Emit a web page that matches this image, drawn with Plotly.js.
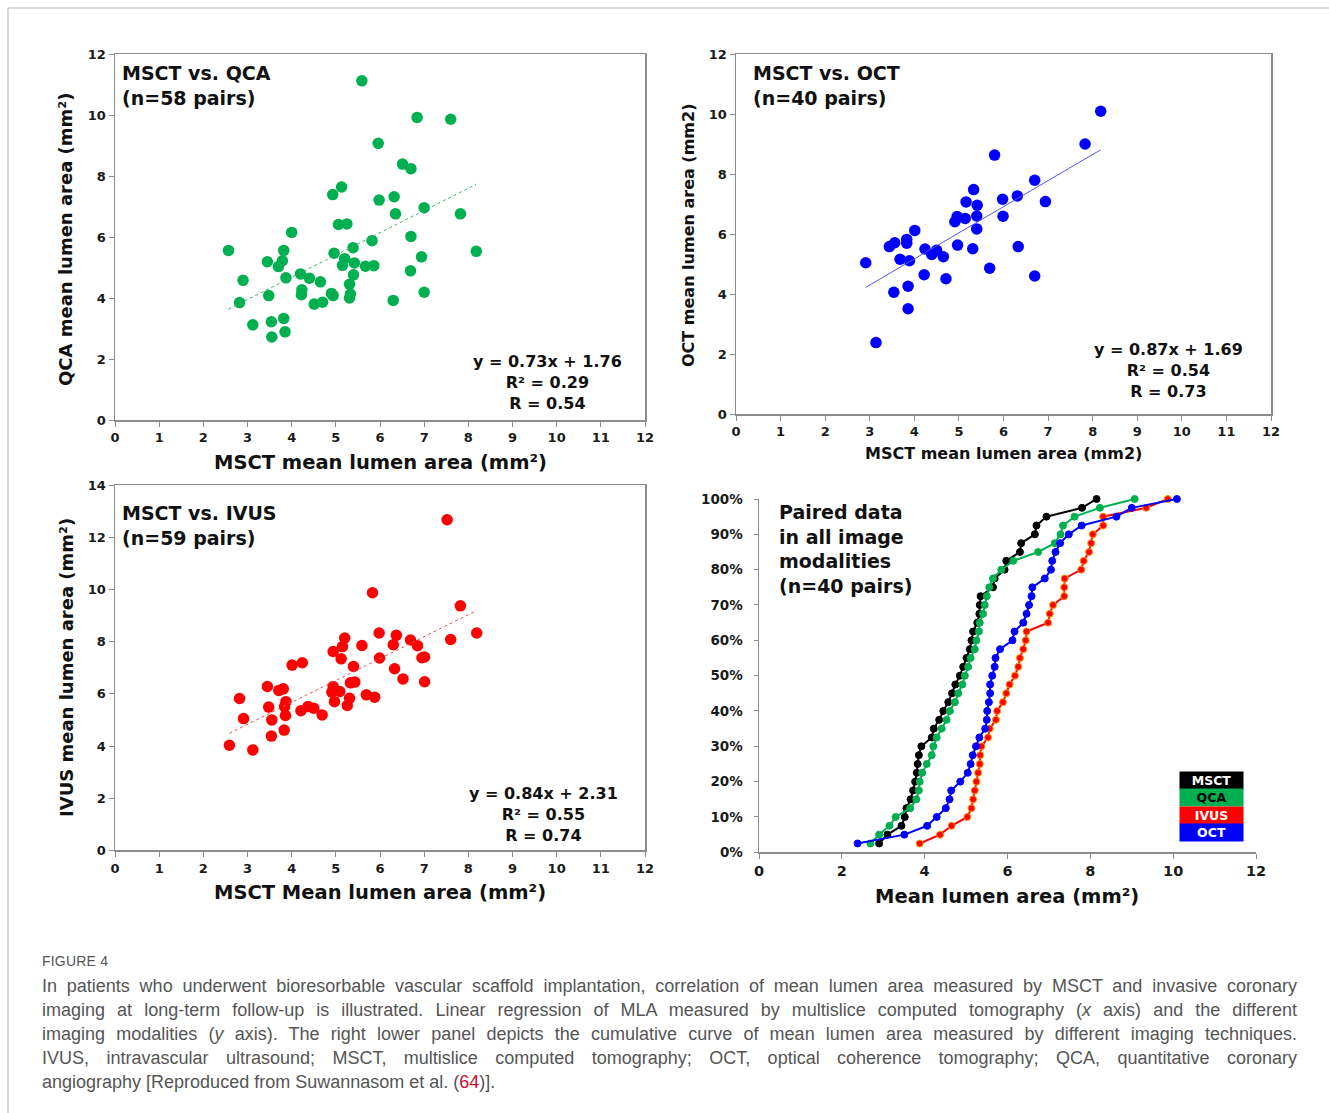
<!DOCTYPE html>
<html>
<head>
<meta charset="utf-8">
<script src="https://cdn.plot.ly/plotly-3.0.1.min.js"></script>
<style>
  html, body { margin: 0; padding: 0; background: #fff; }
  #wrap { position: relative; width: 1329px; height: 1113px; }
  #chart { position: absolute; left: 0; top: 0; width: 1329px; height: 1113px; }
  #caption { position: absolute; left: 42px; top: 948px; width: 1255px;
             font-family: "Liberation Sans", Arial, sans-serif; color: #555; }
  #caption .fig { font-size: 14px; letter-spacing: 0.2px; height: 26px; line-height: 26px; }
  #caption .ln { font-size: 18px; line-height: 24px; height: 24px; white-space: nowrap;
                 text-align: justify; text-align-last: justify; }
  #caption .last { text-align: left; text-align-last: left; }
  #caption .ref { color: #c8102e; }
</style>
</head>
<body>
<div id="wrap">
  <div id="chart"></div>
  <div id="caption">
    <div class="fig">FIGURE 4</div>
    <div class="ln">In patients who underwent bioresorbable vascular scaffold implantation, correlation of mean lumen area measured by MSCT and invasive coronary</div>
    <div class="ln">imaging at long-term follow-up is illustrated. Linear regression of MLA measured by multislice computed tomography (<i>x</i> axis) and the different</div>
    <div class="ln">imaging modalities (<i>y</i> axis). The right lower panel depicts the cumulative curve of mean lumen area measured by different imaging techniques.</div>
    <div class="ln">IVUS, intravascular ultrasound; MSCT, multislice computed tomography; OCT, optical coherence tomography; QCA, quantitative coronary</div>
    <div class="ln last">angiography [Reproduced from Suwannasom et al. (<span class="ref">64</span>)].</div>
  </div>
</div>
<script>
// ---------------- DATA ----------------
// Panel A: MSCT vs QCA
const qcaMsct = [5.59,6.84,7.60,5.96,6.51,6.70,5.13,4.93,6.32,5.98,7.00,6.35,7.82,5.06,5.25,4.00,6.70,5.82,2.57,3.82,5.39,8.18,4.96,6.94,5.20,3.79,3.45,5.42,5.15,5.86,5.67,3.70,6.69,4.20,5.40,3.87,4.40,2.90,4.65,5.31,4.23,7.00,4.90,5.33,4.22,3.48,4.94,5.31,6.30,4.70,2.82,4.51,3.82,3.54,3.12,3.85,3.55];
const qcaVal  = [11.12,9.92,9.86,9.07,8.39,8.24,7.64,7.39,7.32,7.21,6.96,6.76,6.76,6.41,6.43,6.15,6.02,5.88,5.56,5.56,5.65,5.53,5.47,5.35,5.29,5.22,5.19,5.15,5.07,5.06,5.04,5.03,4.89,4.79,4.76,4.66,4.65,4.58,4.53,4.45,4.27,4.19,4.15,4.13,4.11,4.08,4.08,4.00,3.92,3.86,3.85,3.80,3.33,3.22,3.12,2.89,2.72];
const qcaFit = {slope: 0.73, intercept: 1.76};

// Panel B: MSCT vs OCT
const octMsct = [5.80,5.33,5.16,5.41,5.98,6.31,4.96,5.14,5.40,4.91,5.99,5.40,4.01,3.44,3.56,3.83,3.83,4.97,5.31,6.33,4.24,4.50,4.39,4.65,3.68,3.89,2.91,5.69,4.22,4.71,3.86,3.54,3.86,3.14,8.18,7.83,6.70,6.94,6.70];
const octVal  = [8.63,7.48,7.07,6.96,7.16,7.27,6.58,6.52,6.60,6.41,6.59,6.17,6.12,5.58,5.71,5.82,5.69,5.63,5.51,5.58,5.50,5.46,5.32,5.24,5.16,5.11,5.04,4.86,4.64,4.51,4.26,4.06,3.51,2.38,10.09,9.00,7.79,7.08,4.60];
const octFit = {slope: 0.87, intercept: 1.69};

// Panel C: MSCT vs IVUS
const ivusMsct = [5.83,5.98,6.37,5.20,5.15,5.59,6.30,6.69,6.85,4.94,5.12,5.99,6.95,7.01,4.01,4.24,5.40,6.33,6.52,7.01,3.45,3.71,3.81,4.94,5.33,5.43,4.91,5.09,5.69,5.88,2.82,5.31,4.97,3.87,3.84,3.48,5.26,4.37,4.50,4.21,4.69,2.91,3.55,3.86,3.54,3.83,2.59,3.12,7.52,7.82,8.19,7.60];
const ivusVal  = [9.87,8.33,8.24,8.14,7.81,7.85,7.88,8.06,7.84,7.62,7.34,7.37,7.38,7.41,7.10,7.19,7.05,6.96,6.57,6.46,6.28,6.13,6.19,6.28,6.42,6.45,6.06,6.09,5.96,5.87,5.82,5.83,5.70,5.70,5.51,5.49,5.55,5.51,5.45,5.35,5.19,5.05,5.00,5.17,4.38,4.61,4.03,3.85,12.67,9.37,8.33,8.08];
const ivusFit = {slope: 0.84, intercept: 2.31};

// Panel D: cumulative curves (n=40 pairs)
const cumLevels = [0.025,0.05,0.075,0.1,0.125,0.15,0.175,0.2,0.225,0.25,0.275,0.3,0.325,0.35,0.375,0.4,0.425,0.45,0.475,0.5,0.525,0.55,0.575,0.6,0.625,0.65,0.675,0.7,0.725,0.75,0.775,0.8,0.825,0.85,0.875,0.9,0.925,0.95,0.975,1.0];
const cumMSCT = [2.90,3.10,3.44,3.52,3.56,3.66,3.72,3.77,3.81,3.83,3.86,3.92,4.17,4.22,4.35,4.45,4.57,4.66,4.74,4.85,4.93,5.01,5.09,5.13,5.17,5.27,5.32,5.33,5.35,5.65,5.69,5.93,5.97,6.30,6.33,6.66,6.70,6.94,7.80,8.15];
const cumQCA  = [2.69,2.90,3.15,3.30,3.65,3.80,3.86,3.88,3.94,4.05,4.17,4.21,4.29,4.41,4.53,4.61,4.73,4.81,4.91,4.97,5.05,5.11,5.21,5.25,5.31,5.33,5.41,5.45,5.50,5.56,5.65,5.85,6.14,6.74,7.14,7.28,7.34,7.62,8.23,9.07];
const cumIVUS = [3.88,4.37,4.65,5.03,5.13,5.17,5.21,5.25,5.29,5.33,5.34,5.37,5.53,5.57,5.72,5.75,5.89,5.97,6.05,6.18,6.26,6.30,6.38,6.44,6.46,6.98,7.02,7.10,7.37,7.37,7.38,7.78,7.84,7.97,8.02,8.06,8.31,8.31,9.35,9.87];
const cumOCT  = [2.38,3.51,4.06,4.29,4.51,4.60,4.64,4.86,5.04,5.11,5.16,5.24,5.32,5.46,5.50,5.51,5.55,5.58,5.58,5.63,5.69,5.71,5.82,6.12,6.17,6.38,6.46,6.52,6.58,6.60,6.90,7.05,7.08,7.16,7.27,7.48,7.79,8.63,9.00,10.09];
const modalities = ['MSCT','QCA','IVUS','OCT'];

// ---------------- LAYOUT HELPERS ----------------
const W = 1329, H = 1113;
const px = X => X / W;
const py = Y => 1 - Y / H;

const GREEN = '#00b050', BLUE = '#0000ff', RED = '#ff0000';
const FONT = 'DejaVu Sans, Verdana, sans-serif';

function fitLine(xs, fit) {
  const lo = Math.min(...xs), hi = Math.max(...xs);
  return { x: [lo, hi], y: [fit.slope * lo + fit.intercept, fit.slope * hi + fit.intercept] };
}

function axis(domain, range, dtick, anchor, extra) {
  return Object.assign({
    domain: domain, range: range, dtick: dtick, tick0: 0, anchor: anchor,
    showline: true, linecolor: '#8c8c8c', linewidth: 1.5, mirror: true,
    ticks: 'outside', ticklen: 5, tickcolor: '#8c8c8c', tickwidth: 1,
    showgrid: false, zeroline: false,
    tickfont: { family: FONT, size: 13, weight: 'bold', color: '#1a1a1a' }
  }, extra || {});
}

const traces = [];
// Panel A
traces.push({ type: 'scatter', mode: 'markers', x: qcaMsct, y: qcaVal, xaxis: 'x', yaxis: 'y',
  marker: { color: GREEN, size: 11.5 }, cliponaxis: false });
const fA = fitLine(qcaMsct, qcaFit);
traces.push({ type: 'scatter', mode: 'lines', x: fA.x, y: fA.y, xaxis: 'x', yaxis: 'y',
  line: { color: '#3fae6a', width: 1, dash: 'dot' } });
// Panel B
traces.push({ type: 'scatter', mode: 'markers', x: octMsct, y: octVal, xaxis: 'x2', yaxis: 'y2',
  marker: { color: BLUE, size: 11.5 }, cliponaxis: false });
const fB = fitLine(octMsct, octFit);
traces.push({ type: 'scatter', mode: 'lines', x: fB.x, y: fB.y, xaxis: 'x2', yaxis: 'y2',
  line: { color: '#5555ee', width: 1 } });
// Panel C
traces.push({ type: 'scatter', mode: 'markers', x: ivusMsct, y: ivusVal, xaxis: 'x3', yaxis: 'y3',
  marker: { color: RED, size: 11.5 }, cliponaxis: false });
const fC = fitLine(ivusMsct, ivusFit);
traces.push({ type: 'scatter', mode: 'lines', x: fC.x, y: fC.y, xaxis: 'x3', yaxis: 'y3',
  line: { color: '#e05555', width: 1, dash: 'dot' } });
// Panel D
const cumSeries = [
  { name: 'MSCT', x: cumMSCT, color: '#000000', edge: '#000000' },
  { name: 'QCA',  x: cumQCA,  color: GREEN,     edge: GREEN },
  { name: 'IVUS', x: cumIVUS, color: RED,       edge: '#ff9a00' },
  { name: 'OCT',  x: cumOCT,  color: BLUE,      edge: BLUE }
];
cumSeries.forEach(s => traces.push({
  type: 'scatter', mode: 'lines+markers', name: s.name, x: s.x, y: cumLevels,
  xaxis: 'x4', yaxis: 'y4', cliponaxis: false,
  line: { color: s.color, width: 2 },
  marker: { color: s.color, size: 7, line: { color: s.edge, width: 1 } }
}));

const annotations = [];
function ann(X, Y, text, size, opts) {
  annotations.push(Object.assign({
    xref: 'paper', yref: 'paper', x: px(X), y: py(Y), text: text, showarrow: false,
    font: { family: FONT, size: size, weight: 'bold', color: '#111' },
    xanchor: 'center', yanchor: 'middle', align: 'center'
  }, opts || {}));
}
// Panel titles
ann(120, 85, 'MSCT vs. QCA<br>(n=58 pairs)', 19, { xanchor: 'left', align: 'left' });
ann(751, 85, 'MSCT vs. OCT<br>(n=40 pairs)', 19, { xanchor: 'left', align: 'left' });
ann(120, 525, 'MSCT vs. IVUS<br>(n=59 pairs)', 19, { xanchor: 'left', align: 'left' });
ann(777, 549, 'Paired data<br>in all image<br>modalities<br>(n=40 pairs)', 19, { xanchor: 'left', align: 'left' });
// Regression text
ann(547, 382, 'y = 0.73x + 1.76<br>R² = 0.29<br>R = 0.54', 16);
ann(1168, 370, 'y = 0.87x + 1.69<br>R² = 0.54<br>R = 0.73', 16);
ann(543, 814, 'y = 0.84x + 2.31<br>R² = 0.55<br>R = 0.74', 16);
// Axis titles
ann(380, 462, 'MSCT mean lumen area (mm²)', 19.5);
ann(66, 240, 'QCA mean lumen area (mm²)', 18, { textangle: -90 });
ann(1003, 453, 'MSCT mean lumen area (mm2)', 16);
ann(688, 236, 'OCT mean lumen area (mm2)', 16, { textangle: -90 });
ann(380, 892, 'MSCT Mean lumen area (mm²)', 19.5);
ann(66, 668, 'IVUS mean lumen area (mm²)', 18, { textangle: -90 });
ann(1007, 897, 'Mean lumen area (mm²)', 19.5);
// Legend boxes
const legBg = ['#000000', GREEN, RED, BLUE];
const legFg = ['#ffffff', '#000000', '#ffffff', '#ffffff'];
const legY = [780, 797.5, 815, 832.5];
modalities.forEach((m, i) => {
  annotations.push({
    xref: 'paper', yref: 'paper', x: px(1211.5), y: py(legY[i]), showarrow: false,
    text: m, width: 63, height: 17, bgcolor: legBg[i], borderpad: 0,
    xanchor: 'center', yanchor: 'middle', align: 'center', valign: 'middle',
    font: { family: FONT, size: 12.5, weight: 'bold', color: legFg[i] }
  });
});

const shapes = [
  { type: 'line', xref: 'paper', yref: 'paper', x0: px(8), x1: 1, y0: py(8), y1: py(8),
    line: { color: '#b5b5b5', width: 1 } },
  { type: 'line', xref: 'paper', yref: 'paper', x0: px(8), x1: px(8), y0: py(8), y1: 0,
    line: { color: '#b5b5b5', width: 1 } }
];

const layout = {
  width: W, height: H, margin: { l: 0, r: 0, t: 0, b: 0 },
  paper_bgcolor: '#ffffff', plot_bgcolor: '#ffffff', showlegend: false,
  xaxis:  axis([px(115), px(645)], [0, 12], 1, 'y'),
  yaxis:  axis([py(420), py(54)], [0, 12], 2, 'x'),
  xaxis2: axis([px(736), px(1271)], [0, 12], 1, 'y2'),
  yaxis2: axis([py(414), py(54)], [0, 12], 2, 'x2'),
  xaxis3: axis([px(115), px(645)], [0, 14 > 0 ? 12 : 12], 1, 'y3'),
  yaxis3: axis([py(850.4), py(485)], [0, 14], 2, 'x3'),
  xaxis4: axis([px(759), px(1256)], [0, 12], 2, 'y4',
    { mirror: false, tickfont: { family: FONT, size: 14.5, weight: 'bold', color: '#1a1a1a' } }),
  yaxis4: axis([py(852.3), py(499)], [0, 1], 0.1, 'x4',
    { mirror: false, tickformat: '.0%', ticklen: 4, ticklabelstandoff: 8,
      tickfont: { family: FONT, size: 13.5, weight: 'bold', color: '#1a1a1a' } }),
  annotations: annotations, shapes: shapes
};

Plotly.newPlot('chart', traces, layout, { displayModeBar: false, staticPlot: true });
</script>
</body>
</html>
